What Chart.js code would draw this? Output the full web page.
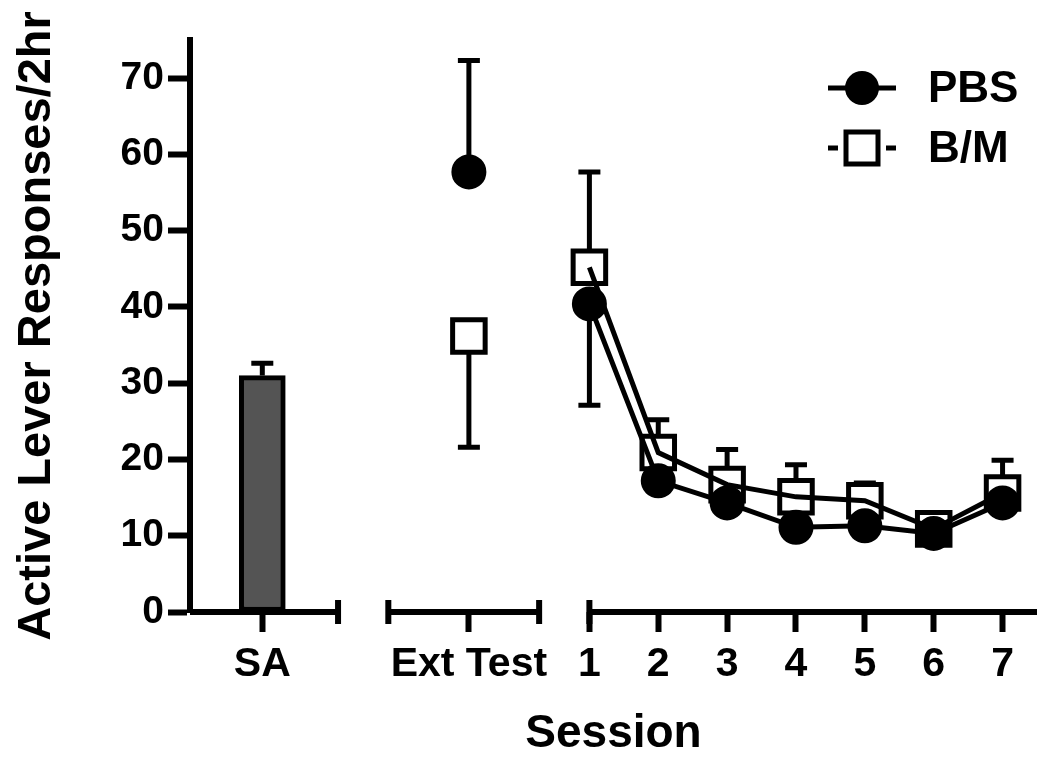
<!DOCTYPE html>
<html>
<head>
<meta charset="utf-8">
<script src="https://cdn.jsdelivr.net/npm/chart.js@4.4.1/dist/chart.umd.min.js"></script>
<style>
  html, body { margin: 0; padding: 0; background: #fff; }
  #wrap { width: 1050px; height: 767px; }
</style>
</head>
<body>
<div id="wrap"><canvas id="chart" width="1050" height="767"></canvas></div>
<script>
// values
const seriesNames = ['PBS', 'B/M'];
const xTickLabels = ['SA', 'Ext Test', '1', '2', '3', '4', '5', '6', '7'];
const sessions = [1, 2, 3, 4, 5, 6, 7];
const yTicks = [0, 10, 20, 30, 40, 50, 60, 70];

const saMean = 31;
const saErrUp = 1.6;

const extPbs = 57.7;
const extPbsErrUp = 14.6;
const extBm = 36.2;
const extBmErrDown = 14.6;

const pbsSessions = [40.4, 17.2, 14.3, 11.1, 11.3, 10.3, 14.3];
const bmSessions = [45.2, 20.9, 16.7, 15.1, 14.6, 10.9, 15.6];
const pbsErrDown = [13.3, 0, 0, 0, 0, 0, 0];
const bmErrUp = [12.5, 4.3, 4.6, 4.2, 2.3, 0, 4.3];

// layout of the broken x axis (axis units)
const X_MIN = -4.8, X_MAX = 7.5;
const SA_X = -3.75, EXT_X = -0.75;
const axisSegments = [
    { from: X_MIN, to: -2.65, capStart: false, capEnd: true },
    { from: -1.92, to: 0.27, capStart: true, capEnd: true },
    { from: 1, to: X_MAX, capStart: true, capEnd: false }
];
const tickXs = [SA_X, EXT_X].concat(sessions);

const FONT = '"Liberation Sans", Arial, Helvetica, sans-serif';
const INK = '#000';
const CIRCLE_R = 16;
const SQUARE_R = 23;

function seriesData(extVal, sessVals) {
    const pts = [{ x: EXT_X, y: extVal }, { x: 0, y: null }];
    sessions.forEach(function(s, i) { pts.push({ x: s, y: sessVals[i] }); });
    return pts;
}

/**
 * Error bars: vertical whiskers with caps, starting at the marker edge
 */
const errorBars = {
    id: 'errorBars',
    beforeDatasetsDraw(chart) {
        const xs = chart.scales.x, ys = chart.scales.y, ctx = chart.ctx;
        const items = [
            { x: SA_X, y: saMean, err: saErrUp, dir: 1, gap: 0 },
            { x: EXT_X, y: extPbs, err: extPbsErrUp, dir: 1, gap: CIRCLE_R },
            { x: EXT_X, y: extBm, err: extBmErrDown, dir: -1, gap: SQUARE_R * 0.72 }
        ];
        sessions.forEach(function(s, i) {
            items.push({ x: s, y: pbsSessions[i], err: pbsErrDown[i], dir: -1, gap: CIRCLE_R });
            items.push({ x: s, y: bmSessions[i], err: bmErrUp[i], dir: 1, gap: SQUARE_R * 0.72 });
        });
        ctx.save();
        ctx.strokeStyle = INK;
        ctx.lineWidth = 5;
        items.forEach(function(it) {
            if (!it.err) return;
            const px = xs.getPixelForValue(it.x);
            const py = ys.getPixelForValue(it.y);
            const pe = ys.getPixelForValue(it.y + it.dir * it.err);
            const start = py - it.dir * it.gap;
            if ((pe - start) * -it.dir <= 0) return;
            ctx.beginPath();
            ctx.moveTo(px, start);
            ctx.lineTo(px, pe);
            ctx.moveTo(px - 11, pe);
            ctx.lineTo(px + 11, pe);
            ctx.stroke();
        });
        ctx.restore();
    }
};

/**
 * Broken x axis: separate line segments with end caps
 */
const brokenAxis = {
    id: 'brokenAxis',
    afterDraw(chart) {
        const xs = chart.scales.x, ctx = chart.ctx;
        const y0 = chart.chartArea.bottom;
        ctx.save();
        ctx.strokeStyle = INK;
        ctx.lineWidth = 6;
        axisSegments.forEach(function(seg) {
            const a = xs.getPixelForValue(seg.from), b = xs.getPixelForValue(seg.to);
            ctx.beginPath();
            ctx.moveTo(a, y0);
            ctx.lineTo(b, y0);
            if (seg.capStart) { ctx.moveTo(a, y0 - 12); ctx.lineTo(a, y0 + 12); }
            if (seg.capEnd) { ctx.moveTo(b, y0 - 12); ctx.lineTo(b, y0 + 12); }
            ctx.stroke();
        });
        ctx.restore();
    }
};

/**
 * Legend drawn like the original: symbol on a short line, bold label
 */
const sketchLegend = {
    id: 'sketchLegend',
    afterDraw(chart) {
        const ctx = chart.ctx;
        const cx = 862, tx = 928;
        const rows = [88, 148];
        ctx.save();
        ctx.strokeStyle = INK;
        ctx.fillStyle = INK;
        ctx.lineWidth = 5;
        // PBS row
        ctx.beginPath();
        ctx.moveTo(cx - 34, rows[0]);
        ctx.lineTo(cx + 34, rows[0]);
        ctx.stroke();
        ctx.beginPath();
        ctx.arc(cx, rows[0], 17, 0, Math.PI * 2);
        ctx.fill();
        // B/M row
        ctx.beginPath();
        ctx.moveTo(cx - 34, rows[1]);
        ctx.lineTo(cx - 24, rows[1]);
        ctx.moveTo(cx + 24, rows[1]);
        ctx.lineTo(cx + 34, rows[1]);
        ctx.stroke();
        ctx.fillStyle = '#fff';
        ctx.fillRect(cx - 16, rows[1] - 16, 32, 32);
        ctx.strokeRect(cx - 16, rows[1] - 16, 32, 32);
        // labels
        ctx.fillStyle = INK;
        ctx.font = 'bold 44px ' + FONT;
        ctx.textBaseline = 'middle';
        ctx.textAlign = 'left';
        ctx.fillText(seriesNames[0], tx, rows[0] + 2);
        ctx.fillText(seriesNames[1], tx, rows[1] + 2);
        ctx.restore();
    }
};

const ctx = document.getElementById('chart');

new Chart(ctx, {
    type: 'line',
    data: {
        datasets: [
            {
                label: seriesNames[0],
                data: seriesData(extPbs, pbsSessions),
                borderColor: INK,
                borderWidth: 5,
                pointStyle: 'circle',
                pointRadius: CIRCLE_R,
                pointBorderWidth: 3,
                pointBackgroundColor: INK,
                pointBorderColor: INK,
                spanGaps: false,
                tension: 0
            },
            {
                label: seriesNames[1],
                data: seriesData(extBm, bmSessions),
                borderColor: INK,
                borderWidth: 5,
                pointStyle: 'rect',
                pointRadius: SQUARE_R,
                pointBorderWidth: 5,
                pointBackgroundColor: 'rgba(255,255,255,0)',
                pointBorderColor: INK,
                spanGaps: false,
                tension: 0
            },
            {
                type: 'bar',
                label: 'SA',
                data: [{ x: SA_X, y: saMean }],
                backgroundColor: '#545454',
                borderColor: INK,
                borderWidth: 5,
                borderSkipped: false,
                barThickness: 46
            }
        ]
    },
    options: {
        responsive: false,
        animation: false,
        events: [],
        layout: { autoPadding: false, padding: { top: 40, right: 13, left: 0, bottom: 0 } },
        plugins: {
            legend: { display: false },
            tooltip: { enabled: false }
        },
        scales: {
            x: {
                type: 'linear',
                min: X_MIN,
                max: X_MAX,
                offset: false,
                border: { display: false },
                grid: { offset: false, drawOnChartArea: false, drawTicks: true, tickLength: 20, tickWidth: 6, tickColor: INK },
                afterBuildTicks: function(scale) {
                    scale.ticks = tickXs.map(function(v) { return { value: v }; });
                },
                ticks: {
                    autoSkip: false,
                    maxRotation: 0,
                    padding: 8,
                    color: INK,
                    font: { family: FONT, size: 41, weight: 'bold' },
                    callback: function(value, index) { return xTickLabels[index]; }
                },
                title: {
                    display: true,
                    text: 'Session',
                    color: INK,
                    font: { family: FONT, size: 46, weight: 'bold' },
                    padding: { top: 0, bottom: 5 }
                },
                afterFit: function(scale) { scale.height = 155; }
            },
            y: {
                min: 0,
                max: 75,
                border: { display: true, width: 6, color: INK },
                grid: { drawOnChartArea: false, drawTicks: true, tickLength: 22, tickWidth: 6, tickColor: INK },
                afterBuildTicks: function(scale) {
                    scale.ticks = yTicks.map(function(v) { return { value: v }; });
                },
                ticks: {
                    padding: 4,
                    color: INK,
                    font: { family: FONT, size: 39, weight: 'bold' }
                },
                title: {
                    display: true,
                    text: 'Active Lever Responses/2hr',
                    color: INK,
                    font: { family: FONT, size: 47, weight: 'bold' },
                    padding: { top: 9, bottom: 0 }
                },
                afterFit: function(scale) { scale.width = 190; }
            }
        }
    },
    plugins: [errorBars, brokenAxis, sketchLegend]
});
</script>
</body>
</html>
